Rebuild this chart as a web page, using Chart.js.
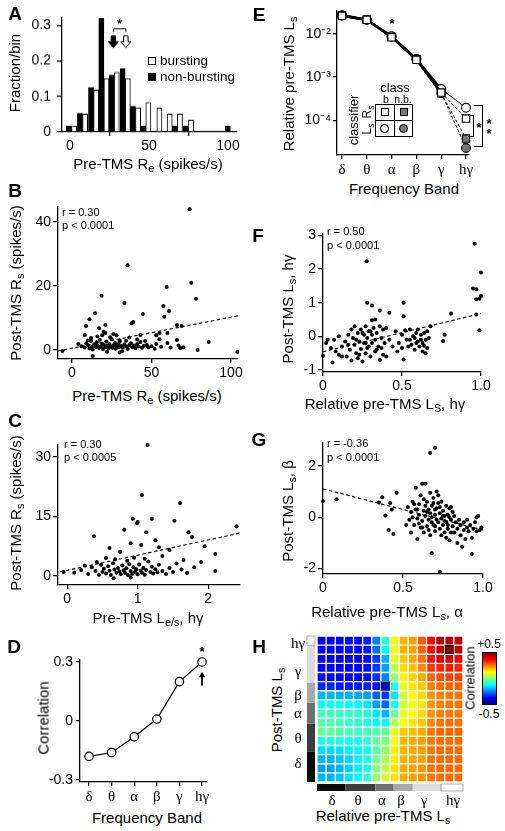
<!DOCTYPE html>
<html>
<head>
<meta charset="utf-8">
<script src="https://cdn.jsdelivr.net/npm/chart.js@4.4.1/dist/chart.umd.min.js"></script>
<style>
  html, body { margin: 0; padding: 0; background: #fff; }
  body { position: relative; width: 505px; height: 831px; overflow: hidden;
         font-family: "Liberation Sans", Arial, Helvetica, sans-serif; color: #000; }
  canvas { position: absolute; }
  .lbl { position: absolute; white-space: nowrap; line-height: 1; font-weight: 400; }
  .lbl sub { font-size: 0.72em; vertical-align: -0.3em; line-height: 0; }
</style>
</head>
<body>
<canvas id="cA"></canvas>
<canvas id="cB"></canvas>
<canvas id="cC"></canvas>
<canvas id="cD"></canvas>
<canvas id="cE"></canvas>
<canvas id="cF"></canvas>
<canvas id="cG"></canvas>
<canvas id="cH"></canvas>
<script>
const SANS = '"Liberation Sans", Arial, Helvetica, sans-serif';
const SERIF = '"Liberation Serif", "Times New Roman", serif';

// ---- A: histogram of pre-TMS Re
const binCenters = [1, 8, 15, 21.5, 28, 35, 41.5, 48, 55, 61.5, 68, 75, 81.5, 88, 95, 101.5];
const fracBursting = [0.017, 0.05, 0.118, 0.15, 0.168, 0.15, 0.068, 0.083, 0.068, 0.05, 0.05, 0.033, 0, 0, 0, 0];
const fracNonBursting = [0.017, 0.052, 0.125, 0.32, 0.16, 0.178, 0.072, 0.017, 0, 0, 0.017, 0.017, 0, 0, 0, 0.017];
const meanNonBursting = 27.5;
const meanBursting = 35.4;

// ---- B: pre-TMS Re vs post-TMS Rs
const scatterB = [
  [74,44],[35,26.5],[18.6,17],[59.5,19.7],[75,21],[78,16],[33,14.7],[57.5,13.8],[61,12.2],[14.5,11.5],
  [44.5,11.3],[58,10.4],[11,9.6],[8.8,7.5],[21,5.3],[79,0],[86,2.5],[104,-0.6],[68,0.6],[-6,-0.3],
  [13,-1.9],[4,1.9],[53,1.9],[60,2.2],[66,3.1],[47,1.6],[43,4.7],[38.6,8.8],[21,7.8],[69,7.5],
  [37.5,8.4],[20,5.7],[24,4],[28,4.6],[30,3],[8,4.7],[17,6.8],[66,7.8],[55,5.3],[60,5.3],[53,4.6],
  [6,1.2],[8,0.8],[9,2.1],[10,1.5],[11,0.5],[12,2.8],[12.5,1.0],[13,0.2],[14,1.8],[15,0.9],
  [15.5,2.4],[16,1.4],[17,0.6],[17.5,3.2],[18,1.1],[19,2.0],[19.5,0.3],[20,1.6],[21,0.9],[21.5,2.7],
  [22,1.3],[23,0.5],[23.5,1.9],[24,1.1],[25,3.4],[25.5,0.7],[26,1.5],[27,2.2],[27.5,0.4],[28,1.2],
  [29,1.8],[29.5,0.9],[30,2.6],[31,1.3],[31.5,-0.4],[32,0.8],[33,1.7],[34,2.9],[34.5,1.0],[35,0.3],
  [36,1.5],[37,2.1],[38,0.9],[39,1.4],[40,0.6],[41,1.9],[42,1.1],[43,2.5],[44,0.7],[45,1.3],
  [48,0.9],[50,1.2],[52,0.4],[55,3.4],[56,1.0],[62,0.8],[67,1.4],[70,0.9],[16,4.2],[26,5.0],
  [12,3.8],[36,3.9],[41,3.3],[30,-0.8],[22,-0.5],[10,3.0],[46,2.8],[19,4.6]
];
const trendB = [[-9, -0.3], [104.4, 10.7]];

// ---- C: pre-TMS Le/s (high gamma) vs post-TMS Rs
const scatterC = [
  [1.14,33],[1.06,20.4],[1.6,18.4],[0.93,14.4],[1.0,13.6],[0.99,13.3],[1.2,14.4],[1.52,13.9],[0.81,11.6],[1.12,11],
  [0.38,10],[1.72,11],[1.77,9.8],[2.4,12.5],[1.95,7.5],[2.1,5.5],[0.6,7],[0.75,6],[1.3,7.2],[1.45,6.5],
  [0.9,8.2],[1.05,7.8],[0.55,4.5],[1.35,5],[1.65,4],[1.25,9],
  [-0.05,1],[0.1,0.8],[0.2,1.5],[0.3,0.5],[0.35,2.2],[0.4,1.2],[0.45,0.3],[0.48,2.8],[0.5,1.0],[0.52,1.8],
  [0.55,0.6],[0.58,2.4],[0.6,1.3],[0.62,0.2],[0.65,3.2],[0.67,1.6],[0.7,0.8],[0.72,2.0],[0.74,1.1],[0.76,0.4],
  [0.78,2.6],[0.8,1.4],[0.82,0.7],[0.84,1.9],[0.86,0.2],[0.88,3.0],[0.9,1.2],[0.92,0.5],[0.94,2.2],[0.96,1.0],
  [0.98,1.7],[1.0,0.4],[1.02,2.9],[1.04,1.3],[1.06,0.8],[1.08,2.0],[1.1,0.3],[1.12,1.5],[1.15,3.6],[1.18,1.0],
  [1.2,2.3],[1.22,0.6],[1.25,1.7],[1.28,0.9],[1.3,2.8],[1.35,1.2],[1.4,0.5],[1.45,2.0],[1.5,1.0],[1.55,3.1],
  [1.62,1.6],[1.7,0.7],[1.8,2.2],[0.68,4.2],[0.85,3.8],[0.95,4.6],[1.1,4.3],[0.42,3.5],[0.66,-0.6],[0.9,-0.4],
  [2.1,1.2],[1.9,3.5],[0.25,2.6]
];
const trendC = [[-0.1, 1], [2.45, 10.8]];

// ---- D: correlation per frequency band
const bands = ['δ', 'θ', 'α', 'β', 'γ', 'hγ'];
const corrD = [-0.18, -0.16, -0.08, 0.01, 0.2, 0.3];

// ---- E: relative pre-TMS Ls per band, by classifier and class
const lsBursting = [0.026, 0.021, 0.0088, 0.0026, 0.00053, 0.000195];
const lsNonBursting = [0.027, 0.021, 0.0085, 0.0026, 0.00043, 0.000023];
const rsBursting = [0.026, 0.021, 0.0083, 0.0025, 0.00044, 0.00011];
const rsNonBursting = [0.027, 0.021, 0.0086, 0.0026, 0.00042, 0.000038];

// ---- F: relative pre-TMS Ls (hγ) vs post-TMS Ls (hγ)
const scatterF = [
  [0.277,2.23],[0.96,2.75],[1.0,1.9],[0.95,1.42],[0.97,1.4],[0.28,1.0],[0.51,1.0],[0.31,0.92],[0.97,1.1],[0.99,1.12],
  [1.0,1.2],[0.97,0.65],[0.99,0.18],[0.81,0.68],[0.51,0.6],[0.42,0.7],[0.36,0.77],[0.31,0.48],[0.33,0.5],[0.77,0.05],
  [0.76,-0.14],[0.51,-0.69],[0.65,-0.5],
  [0.0,-0.58],[0.02,-0.2],[0.03,-0.1],[0.05,-0.35],[0.06,-0.78],[0.07,-0.1],[0.08,-0.45],[0.1,0.0],[0.1,-0.55],[0.12,-0.3],
  [0.14,-0.15],[0.15,-0.6],[0.16,0.05],[0.17,-0.4],[0.18,-0.72],[0.19,-0.05],[0.2,0.3],[0.2,-0.25],[0.21,-0.5],[0.22,0.1],
  [0.22,-0.65],[0.23,-0.15],[0.24,0.2],[0.24,-0.38],[0.25,-0.75],[0.26,0.05],[0.26,-0.2],[0.27,0.3],[0.27,-0.5],[0.28,-0.05],
  [0.29,0.15],[0.29,-0.3],[0.3,-0.6],[0.31,0.05],[0.31,-0.2],[0.32,0.25],[0.33,-0.45],[0.33,-0.1],[0.34,0.1],[0.35,-0.3],
  [0.36,-0.7],[0.36,0.3],[0.37,-0.05],[0.38,0.2],[0.38,-0.55],[0.39,-0.2],[0.4,0.25],[0.4,-0.6],[0.18,0.2],[0.21,-0.1],
  [0.25,0.1],[0.28,-0.35],[0.3,0.15],[0.23,-0.55],[0.34,-0.4],[0.12,-0.6],[0.16,-0.25],[0.37,-0.35],[0.27,-0.2],[0.42,-0.1],
  [0.44,-0.3],
  [0.46,0.15],[0.47,-0.45],[0.48,-0.2],[0.5,0.05],[0.5,-0.35],[0.52,0.18],[0.53,-0.1],[0.54,-0.3],[0.55,0.2],[0.56,-0.25],
  [0.57,0.0],[0.58,-0.4],[0.59,0.1],[0.6,-0.15],[0.6,0.2],[0.61,-0.3],[0.62,0.05],[0.63,-0.2],[0.63,-0.45],[0.64,0.1],
  [0.65,-0.1],[0.66,-0.35],[0.66,0.15],[0.67,-0.05],[0.68,0.3],[0.62,-0.1],[0.58,-0.05],[0.64,-0.28],[0.59,-0.2],[0.55,-0.1]
];
const trendF = [[0, -0.46], [1, 0.68]];

// ---- G: relative pre-TMS Ls (α) vs post-TMS Ls (β)
const scatterG = [
  [0.0,0.62],[0.085,0.7],[0.67,2.5],[0.70,2.7],[0.73,-2.12],[0.68,-1.4],[0.93,-1.43],[0.37,0.78],[0.35,0.57],[0.39,0.07],
  [0.46,0.95],[0.41,-0.5],[0.44,-0.65],[0.42,0.55],[0.43,0.3],
  [0.52,-0.3],[0.53,0.4],[0.54,-0.1],[0.55,0.2],[0.55,-0.6],[0.56,0.6],[0.56,0.0],[0.57,-0.3],[0.58,1.15],[0.58,0.3],
  [0.59,-0.05],[0.59,-0.85],[0.6,0.5],[0.6,0.1],[0.61,-0.4],[0.61,0.85],[0.62,1.3],[0.62,-0.15],[0.63,0.25],[0.63,-0.6],
  [0.64,1.3],[0.64,0.05],[0.65,0.6],[0.65,-0.35],[0.66,0.3],[0.66,-0.1],[0.67,0.95],[0.67,-0.7],[0.68,0.45],[0.68,0.0],
  [0.69,-0.3],[0.69,0.75],[0.7,0.1],[0.7,-0.55],[0.71,1.0],[0.71,0.35],[0.72,-0.2],[0.72,0.55],[0.73,-0.45],[0.73,0.15],
  [0.74,-0.05],[0.74,0.6],[0.75,-0.3],[0.75,0.25],[0.76,-0.6],[0.76,0.05],[0.77,-0.2],[0.77,0.45],[0.78,-0.45],[0.78,0.1],
  [0.79,-0.9],[0.79,0.35],[0.8,-0.1],[0.8,0.4],[0.81,-0.35],[0.82,-0.6],[0.82,0.05],[0.83,-0.2],[0.84,-1.0],[0.84,-0.45],
  [0.85,-0.1],[0.86,-0.7],[0.86,-0.3],[0.87,-1.15],[0.88,-0.5],[0.88,-0.2],[0.89,-0.85],[0.9,-0.4],[0.9,-0.1],[0.91,-0.55],
  [0.92,-0.3],[0.93,-0.8],[0.94,-0.45],[0.95,-0.2],[0.96,0.0],[0.96,-0.55],[0.97,0.05],[0.98,-0.5],[0.99,-0.4],[0.57,0.5],
  [0.6,-0.25],[0.63,0.7],[0.65,0.2],[0.68,-0.2],[0.7,0.3],[0.73,0.4],[0.76,-0.15],[0.79,0.0],[0.81,0.2],[0.62,-0.4],
  [0.66,-0.5],[0.7,-0.35],[0.74,-0.7],[0.77,-0.8],[0.8,-0.6],[0.64,0.45],[0.59,0.3],[0.71,-0.1],[0.75,0.05],[0.78,-0.3],
  [0.67,0.15],[0.69,0.55],[0.72,0.85]
];
const trendG = [[0, 1.1], [1, -0.5]];

// ---- H: correlation matrix, rows = post-TMS bins (bottom δ -> top hγ), cols = pre-TMS bins
const corrMatrix = [
  [-0.2,-0.2,-0.18,-0.15,-0.12,-0.08,0.02,0.08,0.15,0.21,0.22,0.23,0.26,0.27,0.27,0.27],
  [-0.22,-0.22,-0.2,-0.17,-0.14,-0.1,0.0,0.06,0.15,0.21,0.22,0.23,0.26,0.27,0.27,0.27],
  [-0.2,-0.2,-0.18,-0.16,-0.13,-0.1,-0.02,0.04,0.14,0.2,0.21,0.22,0.26,0.27,0.27,0.27],
  [-0.16,-0.16,-0.15,-0.14,-0.13,-0.12,-0.04,0.02,0.14,0.2,0.21,0.22,0.26,0.27,0.27,0.27],
  [-0.1,-0.1,-0.1,-0.11,-0.1,-0.08,-0.03,0.0,0.12,0.2,0.21,0.22,0.26,0.27,0.27,0.27],
  [-0.02,-0.03,-0.04,-0.05,-0.06,-0.06,-0.04,-0.02,0.1,0.18,0.19,0.21,0.26,0.28,0.28,0.28],
  [-0.04,-0.05,-0.06,-0.07,-0.08,-0.1,-0.12,-0.12,0.05,0.13,0.15,0.18,0.24,0.26,0.27,0.26],
  [-0.06,-0.06,-0.07,-0.07,-0.08,-0.1,-0.15,-0.2,-0.02,0.1,0.13,0.16,0.23,0.25,0.26,0.26],
  [-0.12,-0.12,-0.11,-0.12,-0.13,-0.15,-0.22,-0.28,-0.1,0.08,0.12,0.15,0.23,0.25,0.26,0.26],
  [-0.2,-0.2,-0.2,-0.2,-0.21,-0.22,-0.28,-0.32,-0.15,0.08,0.13,0.16,0.23,0.25,0.26,0.26],
  [-0.34,-0.34,-0.35,-0.35,-0.35,-0.34,-0.36,-0.38,-0.1,0.1,0.15,0.18,0.25,0.27,0.28,0.28],
  [-0.38,-0.38,-0.38,-0.38,-0.38,-0.36,-0.33,-0.25,0.02,0.14,0.17,0.21,0.28,0.3,0.31,0.31],
  [-0.38,-0.38,-0.39,-0.38,-0.38,-0.36,-0.32,-0.22,0.06,0.16,0.19,0.24,0.32,0.34,0.35,0.34],
  [-0.4,-0.4,-0.4,-0.39,-0.39,-0.37,-0.32,-0.2,0.1,0.18,0.21,0.26,0.36,0.41,0.42,0.39],
  [-0.37,-0.38,-0.38,-0.37,-0.37,-0.35,-0.27,-0.12,0.12,0.2,0.22,0.28,0.37,0.44,0.47,0.44],
  [-0.37,-0.38,-0.38,-0.36,-0.37,-0.34,-0.25,-0.08,0.12,0.2,0.22,0.29,0.38,0.44,0.45,0.44]
];
const highlightCells = [[7, 10], [14, 14]]; // [col, row]
const colBandEdges = [0, 3.1, 6.4, 8.4, 10.5, 13.6, 16];
const rowBandEdges = [0, 3.3, 6.4, 8.7, 10.9, 15, 16];
const bandGrays = ['#0a0a0a', '#3c3c3c', '#707070', '#a8a8a8', '#dcdcdc', '#ffffff'];

Chart.defaults.font.family = SANS;
Chart.defaults.color = '#000';
Chart.defaults.animation = false;
Chart.defaults.events = [];
Chart.defaults.plugins.legend.display = false;
Chart.defaults.plugins.tooltip.enabled = false;

function jet(v) {
  const t = Math.max(0, Math.min(1, v + 0.5));
  const c = a => Math.round(255 * Math.max(0, Math.min(1, a)));
  const r = c(Math.min(4 * t - 1.5, -4 * t + 4.5));
  const g = c(Math.min(4 * t - 0.5, -4 * t + 3.5));
  const b = c(Math.min(4 * t + 0.5, -4 * t + 2.5));
  return `rgb(${r},${g},${b})`;
}

// put the canvas so that the chart area lands on [L,R]x[T,B]
function place(id, b) {
  const c = document.getElementById(id);
  const w = b.R - b.L + b.yw + b.padR;
  const h = b.B - b.T + b.padT + b.xh;
  c.width = w; c.height = h;
  c.style.left = (b.L - b.yw) + 'px';
  c.style.top = (b.T - b.padT) + 'px';
  c.style.width = w + 'px';
  c.style.height = h + 'px';
  return c;
}

function axis(pos, min, max, ticks, size, extra) {
  const a = {
    type: 'linear', position: pos, min: min, max: max,
    border: { display: true, color: '#000', width: 1.3 },
    grid: { drawOnChartArea: false, drawTicks: true, tickLength: 4, color: '#000', lineWidth: 1.3 },
    ticks: { color: '#000', font: { size: 14 }, padding: 2, maxRotation: 0, autoSkip: false },
    afterBuildTicks: s => { s.ticks = ticks.map(v => ({ value: v })); },
    afterFit: s => { if (pos === 'left') s.width = size; else s.height = size; }
  };
  if (extra) {
    if (extra.ticks) Object.assign(a.ticks, extra.ticks);
    if (extra.grid) Object.assign(a.grid, extra.grid);
    if (extra.type) a.type = extra.type;
  }
  return a;
}

function scatterChart(id, b, pts, trend, xr, yr, xt, yt) {
  place(id, b);
  return new Chart(document.getElementById(id), {
    type: 'scatter',
    data: {
      datasets: [
        { data: pts, pointRadius: 2, pointBackgroundColor: '#000', pointBorderWidth: 0, clip: false },
        { data: trend, showLine: true, pointRadius: 0, borderColor: '#000', borderWidth: 1.1, borderDash: [3.5, 2.5] }
      ]
    },
    options: {
      responsive: false,
      layout: { padding: { top: b.padT, right: b.padR, left: 0, bottom: 0 } },
      scales: {
        x: axis('bottom', xr[0], xr[1], xt, b.xh),
        y: axis('left', yr[0], yr[1], yt, b.yw, { grid: { tickLength: 5 }, ticks: { padding: 2 } })
      }
    }
  });
}

// ---------- A
function downArrow(ctx, x, y0, y1, fill) {
  ctx.beginPath();
  ctx.moveTo(x - 2.2, y0); ctx.lineTo(x + 2.2, y0); ctx.lineTo(x + 2.2, y1 - 6);
  ctx.lineTo(x + 5, y1 - 6); ctx.lineTo(x, y1); ctx.lineTo(x - 5, y1 - 6); ctx.lineTo(x - 2.2, y1 - 6);
  ctx.closePath();
  ctx.fillStyle = fill; ctx.fill();
  ctx.strokeStyle = '#000'; ctx.lineWidth = 1; ctx.stroke();
}
const meanArrows = {
  id: 'meanArrows',
  afterDatasetsDraw(chart) {
    const { ctx, scales: { x, y } } = chart;
    const xb = x.getPixelForValue(meanNonBursting), xw = x.getPixelForValue(meanBursting);
    const top = y.getPixelForValue(0.27), tip = y.getPixelForValue(0.237);
    ctx.save();
    downArrow(ctx, xb, top, tip, '#000');
    downArrow(ctx, xw, top, tip, '#fff');
    const by = y.getPixelForValue(0.29);
    ctx.beginPath();
    ctx.moveTo(xb, by + 3); ctx.lineTo(xb, by); ctx.lineTo(xw, by); ctx.lineTo(xw, by + 3);
    ctx.lineWidth = 1; ctx.stroke();
    ctx.fillStyle = '#000';
    ctx.font = 'bold 13px ' + SANS; ctx.textAlign = 'center';
    ctx.fillText('*', (xb + xw) / 2, by - 1);
    ctx.restore();
  }
};
const bA = { L: 62, T: 15, R: 237, B: 131.5, yw: 50, xh: 24, padT: 12, padR: 16 };
place('cA', bA);
new Chart(document.getElementById('cA'), {
  type: 'bar',
  data: {
    datasets: [
      { data: binCenters.map((c, i) => ({ x: c, y: fracNonBursting[i] })), backgroundColor: '#000', borderColor: '#000', borderWidth: 1 },
      { data: binCenters.map((c, i) => ({ x: c, y: fracBursting[i] })), backgroundColor: '#fff', borderColor: '#000', borderWidth: 1 }
    ]
  },
  options: {
    responsive: false,
    layout: { padding: { top: bA.padT, right: bA.padR, left: 0, bottom: 0 } },
    datasets: { bar: { barPercentage: 1, categoryPercentage: 1, borderSkipped: 'bottom' } },
    scales: {
      x: Object.assign(axis('bottom', -5, 105.7, [0, 50, 100], bA.xh), { offset: false }),
      y: axis('left', 0, 0.322, [0, 0.1, 0.2, 0.3], bA.yw, { grid: { tickLength: 5 }, ticks: { padding: 6 } })
    }
  },
  plugins: [meanArrows]
});

// ---------- B, C
scatterChart('cB', { L: 58, T: 207, R: 238, B: 359, yw: 40, xh: 24, padT: 12, padR: 16 },
  scatterB, trendB, [-8.8, 104.4], [-2.8, 44.7], [0, 50, 100], [0, 20, 40]);
scatterChart('cC', { L: 58, T: 445, R: 240, B: 585, yw: 40, xh: 24, padT: 12, padR: 16 },
  scatterC, trendC, [-0.13, 2.45], [-2.3, 33], [0, 1, 2], [0, 15, 30]);

// ---------- D
// up arrow + star over the last band
const peakMark = {
  id: 'peakMark',
  afterDatasetsDraw(chart) {
    const { ctx, scales: { x, y } } = chart;
    const px = x.getPixelForValue(5);
    const y0 = y.getPixelForValue(0.18), y1 = y.getPixelForValue(0.25);
    ctx.save();
    ctx.fillStyle = '#000';
    ctx.fillRect(px - 0.9, y1 + 4, 1.8, y0 - y1 - 4);
    ctx.beginPath();
    ctx.moveTo(px, y1); ctx.lineTo(px + 3.2, y1 + 5.5); ctx.lineTo(px - 3.2, y1 + 5.5);
    ctx.closePath(); ctx.fill();
    ctx.font = 'bold 13px ' + SANS; ctx.textAlign = 'center';
    ctx.fillText('*', px, y.getPixelForValue(0.3) - 6);
    ctx.restore();
  }
};
const bD = { L: 80, T: 660, R: 207, B: 782, yw: 40, xh: 24, padT: 16, padR: 12 };
place('cD', bD);
new Chart(document.getElementById('cD'), {
  type: 'line',
  data: {
    datasets: [{
      data: corrD.map((v, i) => ({ x: i, y: v })),
      borderColor: '#000', borderWidth: 1.2, pointRadius: 4.2, pointBackgroundColor: '#fff',
      pointBorderColor: '#000', pointBorderWidth: 1.2, clip: false
    }]
  },
  options: {
    responsive: false,
    layout: { padding: { top: bD.padT, right: bD.padR, left: 0, bottom: 0 } },
    scales: {
      x: axis('bottom', -0.4, 5.22, [0, 1, 2, 3, 4, 5], bD.xh,
        { ticks: { font: { family: SERIF, size: 15 }, callback: v => bands[v] } }),
      y: axis('left', -0.31, 0.31, [-0.3, 0, 0.3], bD.yw, { ticks: { padding: 3 } })
    }
  },
  plugins: [peakMark]
});

// ---------- E
const supDigits = { '-': '⁻', '1': '¹', '2': '²', '3': '³', '4': '⁴' };
const bE = { L: 337, T: 5, R: 469, B: 155, yw: 45, xh: 24, padT: 5, padR: 10 };
place('cE', bE);
const lastDashed = {
  borderDash: ctx => ctx.p1DataIndex === 5 ? [3, 2] : [],
  borderWidth: ctx => ctx.p1DataIndex === 5 ? 1 : 2.2
};
function eSeries(vals, style, fill, seg) {
  return {
    data: vals.map((v, i) => ({ x: i, y: v })),
    borderColor: '#000', borderWidth: 2.2, pointStyle: style,
    pointRadius: style === 'rect' ? 5.2 : 4.4, pointBackgroundColor: fill,
    pointBorderColor: '#000', pointBorderWidth: 1.1, clip: false, segment: seg
  };
}
new Chart(document.getElementById('cE'), {
  type: 'line',
  data: {
    datasets: [
      eSeries(rsBursting, 'rect', '#fff', lastDashed),
      eSeries(rsNonBursting, 'rect', '#777', lastDashed),
      eSeries(lsBursting, 'circle', '#fff', { borderWidth: ctx => ctx.p1DataIndex === 5 ? 1 : 2.2 }),
      eSeries(lsNonBursting, 'circle', '#777', lastDashed)
    ]
  },
  options: {
    responsive: false,
    layout: { padding: { top: bE.padT, right: bE.padR, left: 0, bottom: 0 } },
    scales: {
      x: axis('bottom', -0.2, 5.12, [0, 1, 2, 3, 4, 5], bE.xh,
        { ticks: { font: { family: SERIF, size: 15 }, callback: v => bands[v] } }),
      y: axis('left', Math.pow(10, -4.8), Math.pow(10, -1.46), [1e-4, 1e-3, 1e-2], bE.yw,
        { type: 'logarithmic', ticks: { padding: 2,
          callback: v => '10' + String(Math.round(Math.log10(v))).split('').map(ch => supDigits[ch]).join('') } })
    }
  }
});

// ---------- F, G
scatterChart('cF', { L: 323, T: 233, R: 481, B: 372, yw: 40, xh: 24, padT: 10, padR: 14 },
  scatterF, trendF, [0, 1], [-1.06, 3.06], [0, 0.5, 1], [-1, 0, 1, 2, 3]);
scatterChart('cG', { L: 323, T: 442, R: 483, B: 574, yw: 40, xh: 24, padT: 10, padR: 14 },
  scatterG, trendG, [0, 1], [-2.21, 2.91], [0, 0.5, 1], [-2, 0, 2]);

// ---------- H
const bandBars = {
  id: 'bandBars',
  afterDraw(chart) {
    const { ctx, chartArea: a, scales: { x, y } } = chart;
    ctx.save();
    ctx.lineWidth = 0.8; ctx.strokeStyle = '#999';
    for (let i = 0; i < 6; i++) {
      // vertical bar (post-TMS rows)
      const y0 = y.getPixelForValue(rowBandEdges[i + 1]), y1 = y.getPixelForValue(rowBandEdges[i]);
      ctx.fillStyle = bandGrays[i];
      ctx.fillRect(a.left - 10, y0, 8, y1 - y0);
      if (i === 5) ctx.strokeRect(a.left - 10, y0, 8, y1 - y0);
      // horizontal bar (pre-TMS columns)
      const x0 = x.getPixelForValue(colBandEdges[i] - 0.5), x1 = x.getPixelForValue(colBandEdges[i + 1] - 0.5);
      ctx.fillRect(x0, a.bottom + 2, x1 - x0, 7);
      if (i === 5) ctx.strokeRect(x0, a.bottom + 2, x1 - x0, 7);
    }
    ctx.restore();
  }
};
const isHi = (c, r) => highlightCells.some(h => h[0] === c && h[1] === r);
const hCanvas = document.getElementById('cH');
const hw = 146 + 14, hh = 146 + 14;
hCanvas.width = hw; hCanvas.height = hh;
hCanvas.style.left = (317 - 12) + 'px'; hCanvas.style.top = (636 - 2) + 'px';
hCanvas.style.width = hw + 'px'; hCanvas.style.height = hh + 'px';
new Chart(hCanvas, {
  type: 'bar',
  data: {
    labels: corrMatrix[0].map((_, c) => c),
    datasets: corrMatrix.map((row, r) => ({
      data: row.map(() => [r, r + 1]),
      backgroundColor: row.map(v => jet(v)),
      borderColor: row.map((v, c) => isHi(c, r) ? '#1a1a1a' : '#fff'),
      borderWidth: row.map((v, c) => isHi(c, r) ? 2 : 1),
      borderSkipped: false
    }))
  },
  options: {
    responsive: false,
    layout: { padding: { top: 2, right: 2, left: 12, bottom: 12 } },
    datasets: { bar: { grouped: false, barPercentage: 1, categoryPercentage: 1 } },
    scales: {
      x: { type: 'category', display: false, offset: true },
      y: { type: 'linear', display: false, min: 0, max: 16 }
    }
  },
  plugins: [bandBars]
});

// ---------- text overlays
function txt(html, x, y, o) {
  o = o || {};
  const d = document.createElement('div');
  d.className = 'lbl';
  d.innerHTML = html;
  d.style.left = x + 'px';
  d.style.top = y + 'px';
  d.style.fontSize = (o.size || 15) + 'px';
  if (o.bold) d.style.fontWeight = 'bold';
  if (o.serif) d.style.fontFamily = SERIF;
  const tx = o.left ? '0' : '-50%';
  d.style.transform = `translate(${tx},-50%)` + (o.rot ? ' rotate(-90deg)' : '');
  if (o.rot) d.style.transformOrigin = '50% 50%';
  document.body.appendChild(d);
  return d;
}
function box(x, y, w, h, css) {
  const d = document.createElement('div');
  d.style.cssText = `position:absolute;left:${x}px;top:${y}px;width:${w}px;height:${h}px;box-sizing:border-box;` + css;
  document.body.appendChild(d);
  return d;
}

// panel letters
[['A', 15, 13], ['B', 15, 190], ['C', 15, 420], ['D', 14, 646],
 ['E', 259, 14], ['F', 258, 235], ['G', 259, 439], ['H', 259, 646]]
  .forEach(p => txt(p[0], p[1], p[2], { bold: true, size: 19 }));

// A
txt('Fraction/bin', 14, 73, { rot: true });
txt('Pre-TMS R<sub>e</sub> (spikes/s)', 148, 163);
box(148, 57, 8, 8, 'border:1px solid #000;background:#fff;');
txt('bursting', 160, 61, { left: true, size: 13.5 });
box(148, 73, 8, 8, 'background:#000;');
txt('non-bursting', 160, 77, { left: true, size: 13.5 });

// B
txt('Post-TMS R<sub>s</sub> (spikes/s)', 15, 283, { rot: true });
txt('Pre-TMS R<sub>e</sub> (spikes/s)', 147, 395);
txt('r = 0.30', 62, 212, { left: true, size: 11 });
txt('p &lt; 0.0001', 62, 225, { left: true, size: 11 });

// C
txt('Post-TMS R<sub>s</sub> (spikes/s)', 15, 513, { rot: true });
txt('Pre-TMS L<sub>e/s</sub>, hγ', 148, 617);
txt('r = 0.30', 64, 444, { left: true, size: 11 });
txt('p &lt; 0.0005', 64, 457, { left: true, size: 11 });

// D
txt('Correlation', 43, 718, { rot: true });
txt('Frequency Band', 147, 817);

// E
txt('Relative pre-TMS L<sub>s</sub>', 288, 84, { rot: true });
txt('Frequency Band', 404, 188);
txt('*', 392, 23, { bold: true, size: 13 });
txt('class', 395, 87, { size: 13 });
txt('b', 386, 99, { size: 10.5 });
txt('n.b.', 403, 99, { size: 10.5 });
txt('classifier', 353, 120, { rot: true, size: 13 });
txt('R<sub>s</sub>', 367, 112, { rot: true, size: 12 });
txt('L<sub>s</sub>', 367, 129, { rot: true, size: 12 });
box(375, 104, 38, 33, 'border:1px solid #000;');
box(394, 104, 1, 33, 'background:#000;');
box(375, 120, 38, 1, 'background:#000;');
box(381, 108, 8, 8, 'border:1.2px solid #000;background:#fff;');
box(400, 108, 8, 8, 'border:1.2px solid #000;background:#777;');
box(380, 124, 9, 9, 'border:1.2px solid #000;background:#fff;border-radius:50%;');
box(399, 124, 9, 9, 'border:1.2px solid #000;background:#777;border-radius:50%;');
box(474, 105, 9, 42, 'border:1.2px solid #000;border-left:none;');
box(468, 115, 6, 22, 'border:1.2px solid #000;border-left:none;');
txt('*', 479, 127, { bold: true, size: 13 });
txt('*', 489, 123, { bold: true, size: 13 });
txt('*', 489, 133, { bold: true, size: 13 });

// F
txt('Post-TMS L<sub>s</sub>, hγ', 287, 309, { rot: true });
txt('Relative pre-TMS L<sub>S</sub>, hγ', 385, 403);
txt('r = 0.50', 327, 231, { left: true, size: 11 });
txt('p &lt; 0.0001', 327, 245, { left: true, size: 11 });

// G
txt('Post-TMS L<sub>s</sub>, β', 287, 511, { rot: true });
txt('Relative pre-TMS L<sub>s</sub>, α', 387, 611);
txt('r =  -0.36', 327, 443, { left: true, size: 11 });
txt('p &lt; 0.0001', 327, 457, { left: true, size: 11 });

// H
txt('Post-TMS L<sub>s</sub>', 276, 710, { rot: true });
txt('Relative pre-TMS L<sub>s</sub>', 383, 815);
[['hγ', 643], ['γ', 671], ['β', 695], ['α', 713], ['θ', 738], ['δ', 763]]
  .forEach(p => txt(p[0], 298, p[1], { serif: true, size: 15 }));
[['δ', 332], ['θ', 358], ['α', 382], ['β', 401], ['γ', 424], ['hγ', 453]]
  .forEach(p => txt(p[0], p[1], 800, { serif: true, size: 15 }));
const stops = [];
for (let k = 0; k <= 8; k++) stops.push(jet(0.5 - k / 8) + ' ' + (k * 12.5) + '%');
box(482, 652, 15, 53, 'border:1px solid #000;background:linear-gradient(to bottom,' + stops.join(',') + ');');
txt('+0.5', 489, 644, { size: 12 });
txt('-0.5', 489, 714, { size: 12 });
txt('Correlation', 470, 678, { rot: true, size: 13 });
</script>
</body>
</html>
